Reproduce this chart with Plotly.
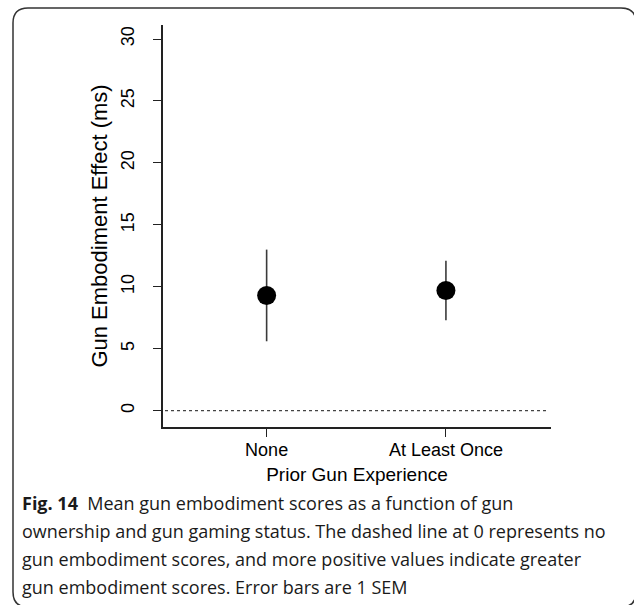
import plotly.graph_objects as go

# Group means and standard errors of the gun embodiment effect (ms)
groups = ["None", "At Least Once"]
positions = [1, 2]
means = [9.3, 9.7]
sems = [3.7, 2.4]

y_ticks = [0, 5, 10, 15, 20, 25, 30]

caption_lines = [
    "<b>Fig. 14</b>  Mean gun embodiment scores as a function of gun",
    "ownership and gun gaming status. The dashed line at 0 represents no",
    "gun embodiment scores, and more positive values indicate greater",
    "gun embodiment scores. Error bars are 1 SEM",
]

W, H = 634, 605
# plot area in pixels
L, R, T, B = 163, 551, 25, 427


def px_x(px):
    return (px - L) / (R - L)


def px_y(py):
    return (B - py) / (B - T)


fig = go.Figure()
fig.add_trace(go.Scatter(
    x=positions,
    y=means,
    mode="markers",
    marker=dict(color="black", size=19, line=dict(width=0)),
    error_y=dict(type="data", array=sems, visible=True, width=0,
                 thickness=1.6, color="#3a3a3a"),
    showlegend=False,
    hoverinfo="skip",
))

axis_font = dict(family="Liberation Sans, Arial, sans-serif", size=18, color="black")

fig.update_layout(
    width=W,
    height=H,
    margin=dict(l=L, r=W - R, t=T, b=H - B, pad=0),
    paper_bgcolor="white",
    plot_bgcolor="white",
    font=axis_font,
    xaxis=dict(
        range=[0.422, 2.586],
        tickmode="array",
        tickvals=positions,
        ticktext=groups,
        showline=True, linecolor="#222222", linewidth=1.5,
        ticks="outside", ticklen=8, tickwidth=1.3, tickcolor="#222222",
        showgrid=False, zeroline=False,
        tickfont=dict(size=18),
        ticklabelstandoff=-2,
        title=dict(text="Prior Gun Experience", font=dict(size=19), standoff=8),
    ),
    yaxis=dict(
        range=[-1.32, 31.13],
        tickmode="array",
        tickvals=y_ticks,
        ticktext=[str(v) for v in y_ticks],
        tickangle=-90,
        showline=True, linecolor="#222222", linewidth=1.5,
        ticks="outside", ticklen=8, tickwidth=1.3, tickcolor="#222222",
        showgrid=False, zeroline=False,
        tickfont=dict(size=18),
        ticklabelstandoff=12,
        title=dict(text="Gun Embodiment Effect (ms)", font=dict(size=22), standoff=4),
    ),
)

# reference line at zero
fig.add_shape(type="line", xref="paper", yref="y",
              x0=px_x(165), x1=px_x(549), y0=0, y1=0,
              line=dict(color="#444444", width=1.3, dash="dot"))

# rounded frame around the figure and caption
x0, x1, y0, y1, r = 13, 636, 8, 607, 15
path = (
    f"M {px_x(x0 + r)},{px_y(y0)} L {px_x(x1 - r)},{px_y(y0)} "
    f"Q {px_x(x1)},{px_y(y0)} {px_x(x1)},{px_y(y0 + r)} "
    f"L {px_x(x1)},{px_y(y1 - r)} "
    f"Q {px_x(x1)},{px_y(y1)} {px_x(x1 - r)},{px_y(y1)} "
    f"L {px_x(x0 + r)},{px_y(y1)} "
    f"Q {px_x(x0)},{px_y(y1)} {px_x(x0)},{px_y(y1 - r)} "
    f"L {px_x(x0)},{px_y(y0 + r)} "
    f"Q {px_x(x0)},{px_y(y0)} {px_x(x0 + r)},{px_y(y0)} Z"
)
fig.add_shape(type="path", xref="paper", yref="paper", path=path,
              line=dict(color="#333333", width=1.5), layer="below")

caption_font = dict(family="Open Sans, sans-serif", size=18, color="#1a1a1a")
for i, line in enumerate(caption_lines):
    fig.add_annotation(
        xref="paper", yref="paper",
        x=px_x(20), y=px_y(503 + 28 * i),
        xanchor="left", yanchor="middle",
        text=line, showarrow=False, font=caption_font, align="left",
    )

fig.write_html("out.html")
